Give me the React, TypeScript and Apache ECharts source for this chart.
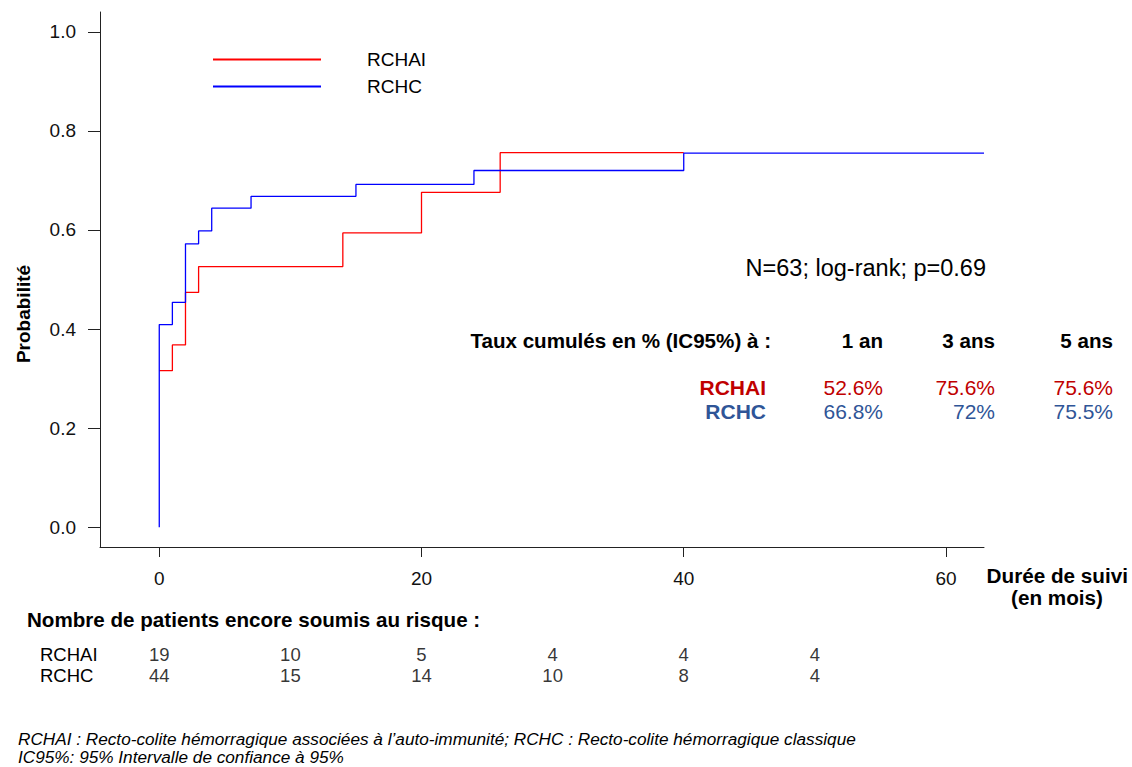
import React, { useEffect, useRef } from "react";
import * as echarts from "echarts";

// ---- data ----
const rchaiTimes = [0, 1, 2, 3, 14, 20, 26, 40];
const rchaiProb = [0.316, 0.368, 0.474, 0.526, 0.594, 0.676, 0.756, 0.756];
const rchcTimes = [0, 0, 1, 2, 3, 4, 7, 15, 24, 40, 62.9];
const rchcProb = [0, 0.409, 0.454, 0.572, 0.598, 0.644, 0.668, 0.692, 0.72, 0.755, 0.755];

const xTicks = [0, 20, 40, 60];
const yTicks = [0, 0.2, 0.4, 0.6, 0.8, 1.0];

const riskMonths = [0, 10, 20, 30, 40, 50];
const riskRchai = [19, 10, 5, 4, 4, 4];
const riskRchc = [44, 15, 14, 10, 8, 4];

const rateHeaders = ["1 an", "3 ans", "5 ans"];
const rateRchai = [52.6, 75.6, 75.6];
const rateRchc = [66.8, 72, 75.5];

const FONT = '"Liberation Sans", Arial, sans-serif';
const RED_TXT = "#c00000";
const BLUE_TXT = "#2f5597";

export default function App() {
  const ref = useRef<HTMLDivElement>(null);
  useEffect(() => {
    if (!ref.current) return;
    const chart = echarts.init(ref.current, undefined, { renderer: "svg" });

    const rateCols = [883, 995, 1113];
    const graphics: any[] = [];
    const txt = (text: string, x: number, y: number, o: any = {}) => ({
      type: "text",
      x,
      y,
      rotation: o.rotation || 0,
      style: {
        text,
        fontFamily: FONT,
        fontSize: o.size || 19,
        fontWeight: o.bold ? "bold" : "normal",
        fontStyle: o.italic ? "italic" : "normal",
        fill: o.fill || "#000",
        textAlign: o.align || "left",
        textVerticalAlign: "middle",
      },
    });
    graphics.push(txt("Probabilité", 23, 314, { bold: true, align: "center", rotation: Math.PI / 2, size: 19 }));
    graphics.push(txt("N=63; log-rank; p=0.69", 986, 268, { align: "right", size: 23.5 }));
    graphics.push(txt("Taux cumulés en % (IC95%) à :", 771, 340, { bold: true, align: "right", size: 20.6 }));
    rateHeaders.forEach((h, i) => graphics.push(txt(h, rateCols[i], 340, { bold: true, align: "right", size: 20.6 })));
    graphics.push(txt("RCHAI", 766, 387, { bold: true, align: "right", fill: RED_TXT, size: 21 }));
    graphics.push(txt("RCHC", 766, 411, { bold: true, align: "right", fill: BLUE_TXT, size: 21 }));
    rateRchai.forEach((v, i) => graphics.push(txt(v + "%", rateCols[i], 387, { align: "right", fill: RED_TXT, size: 21 })));
    rateRchc.forEach((v, i) => graphics.push(txt(v + "%", rateCols[i], 411, { align: "right", fill: BLUE_TXT, size: 21 })));
    graphics.push(txt("Durée de suivi", 1128, 575, { bold: true, align: "right", size: 20.7 }));
    graphics.push(txt("(en mois)", 1057, 597, { bold: true, align: "center", size: 20.7 }));
    graphics.push(txt("Nombre de patients encore soumis au risque :", 27, 619, { bold: true, size: 20.6 }));
    graphics.push(
      txt("RCHAI : Recto-colite hémorragique associées à l’auto-immunité; RCHC : Recto-colite hémorragique classique", 18, 739, { italic: true, size: 17.2 })
    );
    graphics.push(txt("IC95%: 95% Intervalle de confiance à 95%", 18, 757, { italic: true, size: 17.2 }));

    const riskData: any[] = [];
    riskMonths.forEach((m, i) => {
      riskData.push([m, "RCHAI", riskRchai[i]]);
      riskData.push([m, "RCHC", riskRchc[i]]);
    });

    chart.setOption({
      animation: false,
      textStyle: { fontFamily: FONT },
      grid: [
        { left: 100, right: 148, top: 12, bottom: 220, containLabel: false },
        { left: 100, right: 148, top: 643.5, height: 42, containLabel: false },
      ],
      legend: {
        data: ["RCHAI", "RCHC"],
        orient: "vertical",
        left: 208,
        top: 45,
        itemWidth: 108,
        itemHeight: 2,
        itemGap: 8,
        icon: "rect",
        textStyle: { fontSize: 19, color: "#000", fontFamily: FONT, padding: [0, 0, 0, 41] },
      },
      xAxis: [
        {
          type: "value",
          gridIndex: 0,
          min: -4.52,
          max: 62.9,
          axisLine: { show: true, onZero: false, lineStyle: { color: "#222", width: 1 } },
          axisTick: { show: true, length: 10, customValues: xTicks, lineStyle: { color: "#222" } },
          axisLabel: {
            show: true,
            customValues: xTicks,
            margin: 22,
            fontSize: 19,
            color: "#111",
            fontFamily: FONT,
            formatter: (v: number) => String(v),
          },
          splitLine: { show: false },
        },
        {
          type: "value",
          gridIndex: 1,
          min: -4.52,
          max: 62.9,
          show: false,
        },
      ],
      yAxis: [
        {
          type: "value",
          gridIndex: 0,
          min: -0.04,
          max: 1.04,
          axisLine: { show: true, onZero: false, lineStyle: { color: "#222", width: 1 } },
          axisTick: { show: true, length: 12, customValues: yTicks, lineStyle: { color: "#222" } },
          axisLabel: {
            show: true,
            customValues: yTicks,
            margin: 24,
            fontSize: 19,
            color: "#111",
            fontFamily: FONT,
            formatter: (v: number) => v.toFixed(1),
          },
          splitLine: { show: false },
        },
        {
          type: "category",
          gridIndex: 1,
          data: ["RCHAI", "RCHC"],
          inverse: true,
          axisLine: { show: false },
          axisTick: { show: false },
          axisLabel: { show: true, interval: 0, align: "left", margin: 60, fontSize: 18.5, color: "#000", fontFamily: FONT },
        },
      ],
      graphic: graphics,
      series: [
        {
          name: "RCHAI",
          type: "line",
          step: "end",
          xAxisIndex: 0,
          yAxisIndex: 0,
          showSymbol: false,
          symbol: "none",
          color: "#ff0000",
          lineStyle: { color: "#ff0000", width: 1.3 },
          data: rchaiTimes.map((t, i) => [t, rchaiProb[i]]),
        },
        {
          name: "RCHC",
          type: "line",
          step: "end",
          xAxisIndex: 0,
          yAxisIndex: 0,
          showSymbol: false,
          symbol: "none",
          color: "#0000ff",
          lineStyle: { color: "#0000ff", width: 1.3 },
          data: rchcTimes.map((t, i) => [t, rchcProb[i]]),
        },
        {
          name: "risk",
          type: "scatter",
          xAxisIndex: 1,
          yAxisIndex: 1,
          symbolSize: 0,
          silent: true,
          label: {
            show: true,
            position: "inside",
            fontSize: 18.5,
            color: "#000",
            fontFamily: FONT,
            formatter: (p: any) => String(p.value[2]),
          },
          data: riskData,
        },
      ],
    });
    return () => chart.dispose();
  }, []);
  return <div ref={ref} style={{ position: "fixed", left: 0, top: 0, width: 1132, height: 767, background: "#fff" }} />;
}
